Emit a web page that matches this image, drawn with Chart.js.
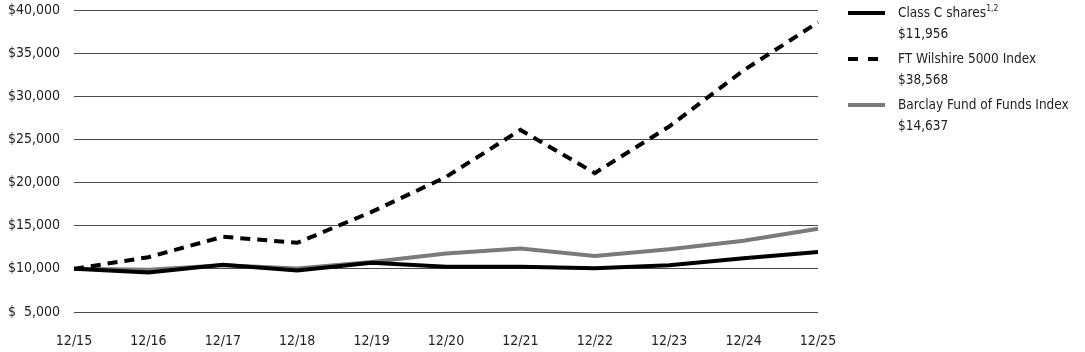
<!DOCTYPE html>
<html>
<head>
<meta charset="utf-8">
<script src="https://cdn.jsdelivr.net/npm/chart.js@4"></script>
<style>
  html, body { margin: 0; padding: 0; background: #fff; }
  #wrap { position: relative; width: 1085px; height: 352px; }
  #legend { position: absolute; left: 848px; top: 2px; font-family: "Liberation Sans Narrow", "DejaVu Sans Condensed", sans-serif; font-size: 13.5px; color: #222; white-space: nowrap; }
  .item { position: relative; padding-left: 50px; line-height: 21px; height: 42px; margin-bottom: 4px; }
  .swatch { position: absolute; left: 0; top: 9px; width: 37px; height: 0; }
  .solid { border-top: 4px solid #000; }
  .grey { border-top: 4px solid #7a7a7a; }
  .dash { position: absolute; top: 0; width: 10px; border-top: 4px solid #000; }
  sup { font-size: 8.5px; vertical-align: 6px; line-height: 0; }
</style>
</head>
<body>
<div id="wrap">
  <canvas id="chart" width="1085" height="352"></canvas>
  <div id="legend"></div>
</div>
<script>
const years = ['12/15', '12/16', '12/17', '12/18', '12/19', '12/20', '12/21', '12/22', '12/23', '12/24', '12/25'];
const classC = [10000, 9580, 10480, 9800, 10700, 10240, 10230, 10060, 10430, 11230, 11956];
const wilshire = [10000, 11350, 13720, 13020, 16600, 20650, 26100, 21100, 26500, 33000, 38568];
const barclay = [10000, 9900, 10420, 10050, 10800, 11790, 12370, 11480, 12260, 13250, 14637];

const names = ['Class C shares', 'FT Wilshire 5000 Index', 'Barclay Fund of Funds Index'];
const endValues = ['$11,956', '$38,568', '$14,637'];

// legend as html so the superscript stays real text
const legend = document.getElementById('legend');
legend.innerHTML =
  '<div class="item"><div class="swatch solid"></div>' + names[0] + '<sup>1,2</sup><br>' + endValues[0] + '</div>' +
  '<div class="item"><div class="swatch"><div class="dash" style="left:0"></div><div class="dash" style="left:20px"></div></div>' + names[1] + '<br>' + endValues[1] + '</div>' +
  '<div class="item"><div class="swatch grey"></div>' + names[2] + '<br>' + endValues[2] + '</div>';

const font = { family: '"Liberation Sans Narrow", "DejaVu Sans Condensed", sans-serif', size: 14 };

const data = {
  labels: years,
  datasets: [
    { label: names[1], data: wilshire, borderColor: '#000', borderWidth: 4, borderDash: [10, 7], order: 0 },
    { label: names[0], data: classC, borderColor: '#000', borderWidth: 4, order: 1 },
    { label: names[2], data: barclay, borderColor: '#7a7a7a', borderWidth: 4, order: 2 }
  ]
};

const config = {
  type: 'line',
  data,
  options: {
    responsive: false,
    animation: false,
    layout: { padding: { top: 10, right: 267, bottom: 0, left: 0 } },
    elements: { point: { radius: 0 }, line: { tension: 0 } },
    plugins: { legend: { display: false }, tooltip: { enabled: false } },
    scales: {
      x: {
        offset: false,
        grid: { display: false, drawTicks: false },
        border: { display: false },
        ticks: { color: '#222', font, padding: 21, maxRotation: 0, autoSkip: false },
        afterFit(s) { s.height = 40; s.paddingLeft = 0; s.paddingRight = 0; }
      },
      y: {
        min: 5000,
        max: 40000,
        grid: { color: '#4a4a4a', lineWidth: 1, drawTicks: false },
        border: { display: false },
        ticks: {
          stepSize: 5000,
          color: '#222',
          font,
          padding: 14,
          callback: v => v < 10000 ? '$\u2007' + v.toLocaleString('en-US') : '$' + v.toLocaleString('en-US')
        },
        afterFit(s) { s.width = 74; s.paddingTop = 0; s.paddingBottom = 0; }
      }
    }
  }
};

var chart = new Chart(document.getElementById('chart'), config);
</script>
</body>
</html>
